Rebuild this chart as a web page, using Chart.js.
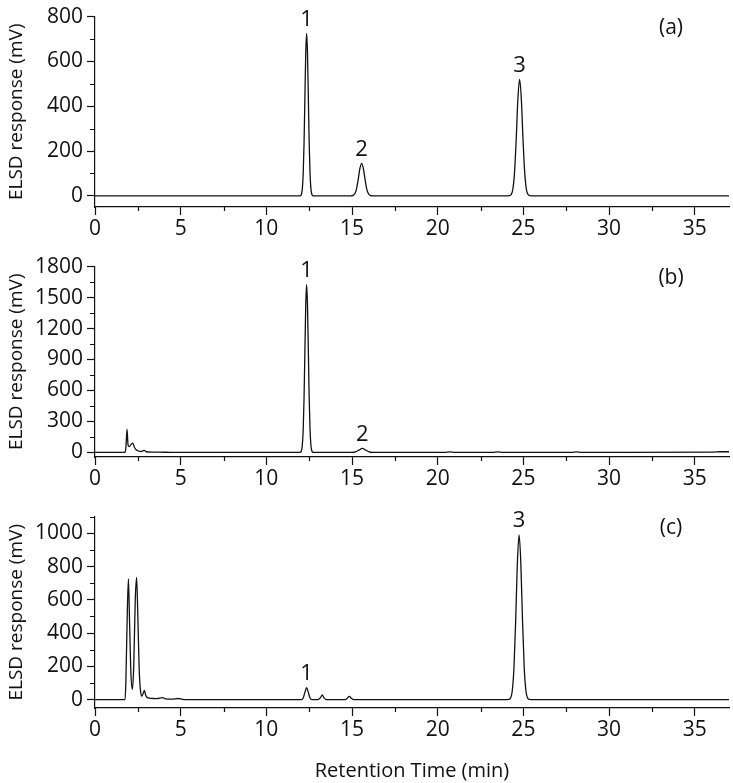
<!DOCTYPE html>
<html>
<head>
<meta charset="utf-8">
<script src="https://cdn.jsdelivr.net/npm/chart.js@4.4.0/dist/chart.umd.min.js"></script>
<style>
  html, body { margin: 0; padding: 0; background: #fff; }
  .panel { position: absolute; left: 0; width: 733px; }
  .panel canvas { display: block; }
</style>
</head>
<body>
<div class="panel" style="top:0px;height:250px"><canvas id="chA" width="733" height="250"></canvas></div>
<div class="panel" style="top:250px;height:250px"><canvas id="chB" width="733" height="250"></canvas></div>
<div class="panel" style="top:500px;height:283px"><canvas id="chC" width="733" height="283"></canvas></div>
<script>
// x axis
const xMin = 0, xMax = 37;
const xTicks = [0, 5, 10, 15, 20, 25, 30, 35];

// (a) retention time (min) / response (mV)
const timeA = [0, 11.9, 12.0, 12.05, 12.1, 12.15, 12.2, 12.25, 12.3, 12.35, 12.4, 12.45, 12.5, 12.55, 12.6, 12.65, 12.7, 12.8,
  14.9, 15.06, 15.16, 15.26, 15.36, 15.46, 15.56, 15.66, 15.76, 15.86, 15.96, 16.06, 16.2,
  23.9, 24.18, 24.28, 24.38, 24.48, 24.58, 24.68, 24.78, 24.88, 24.98, 25.08, 25.18, 25.28, 25.38, 25.6, 37];
const respA = [0, 0, 1, 8, 32, 98, 235, 440, 640, 725, 640, 440, 235, 98, 32, 8, 1, 0,
  0, 2, 9, 30, 73, 122, 145, 122, 73, 30, 9, 2, 0,
  0, 1, 5, 27, 100, 249, 433, 520, 433, 249, 100, 27, 5, 1, 0, 0];
const yTicksA = [0, 200, 400, 600, 800];
const tagTextA = ['1', '2', '3'];
const tagTimeA = [12.35, 15.56, 24.78];
const tagRespA = [725, 145, 520];

// (b)
const timeB = [0, 1.75, 1.8, 1.87, 1.93, 2.0, 2.1, 2.2, 2.3, 2.4, 2.55, 2.7, 2.86, 3.0, 3.3, 3.8, 4.5,
  11.9, 12.0, 12.05, 12.1, 12.15, 12.2, 12.25, 12.3, 12.35, 12.4, 12.45, 12.5, 12.55, 12.6, 12.65, 12.7, 12.8,
  15.0, 15.2, 15.4, 15.6, 15.8, 16.0, 16.2, 20.4, 20.7, 21.0, 23.2, 23.5, 23.8, 27.8, 28.1, 28.4, 36.0, 36.5, 37];
const respB = [0, 0, 40, 224, 70, 55, 75, 90, 50, 25, 12, 8, 20, 6, 3, 2, 0,
  0, 2, 18, 71, 220, 527, 986, 1434, 1625, 1434, 986, 527, 220, 71, 18, 2, 0,
  0, 5, 22, 38, 22, 5, 0, 0, 5, 0, 0, 4, 0, 0, 4, 0, 2, 6, 6];
const yTicksB = [0, 300, 600, 900, 1200, 1500, 1800];
const tagTextB = ['1', '2'];
const tagTimeB = [12.35, 15.6];
const tagRespB = [1625, 38];

// (c)
const timeC = [0, 1.75, 1.8, 1.88, 1.95, 2.02, 2.1, 2.18, 2.26, 2.35, 2.43, 2.5, 2.58, 2.66, 2.74, 2.82, 2.88, 2.95, 3.05, 3.3, 3.6, 3.95, 4.1, 4.5, 4.85, 5.1, 5.5,
  12.05, 12.15, 12.25, 12.35, 12.45, 12.55, 12.65, 13.0, 13.16, 13.26, 13.36, 13.5, 14.6, 14.72, 14.84, 14.96, 15.1,
  23.9, 24.15, 24.25, 24.35, 24.45, 24.55, 24.65, 24.75, 24.85, 24.95, 25.05, 25.15, 25.25, 25.35, 25.6, 37];
const respC = [0, 0, 100, 500, 726, 450, 150, 62, 200, 600, 734, 500, 180, 50, 22, 40, 56, 30, 12, 8, 6, 12, 5, 3, 7, 2, 0,
  0, 10, 44, 72, 44, 10, 0, 0, 12, 28, 12, 0, 0, 8, 20, 8, 0,
  0, 1.5, 10, 52, 190, 475, 824, 990, 824, 475, 190, 52, 10, 1.5, 0, 0];
const yTicksC = [0, 200, 400, 600, 800, 1000];
const tagTextC = ['1', '3'];
const tagTimeC = [12.35, 24.75];
const tagRespC = [72, 990];

const FONT = "'Open Sans', 'DejaVu Sans', sans-serif";
const INK = '#111';

function pts(ts, vs) {
  return ts.map((t, i) => ({ x: t, y: vs[i] }));
}

// short minor ticks halfway between majors, peak numbers, panel letter
const decorPlugin = {
  id: 'decor',
  afterDraw(chart, args, opts) {
    const ctx = chart.ctx;
    const xs = chart.scales.x, ys = chart.scales.y;
    ctx.save();
    ctx.strokeStyle = INK;
    ctx.lineWidth = 1.2;
    ctx.beginPath();
    const xStep = xTicks[1] - xTicks[0];
    xTicks.forEach(v => {
      const m = v + xStep / 2;
      if (m > xMax) return;
      const px = Math.round(xs.getPixelForValue(m)) + 0.5;
      ctx.moveTo(px, xs.top);
      ctx.lineTo(px, xs.top + 4);
    });
    const yStep = opts.yTicks[1] - opts.yTicks[0];
    opts.yTicks.forEach(v => {
      const m = v + yStep / 2;
      if (m > ys.max) return;
      const py = Math.round(ys.getPixelForValue(m)) + 0.5;
      ctx.moveTo(ys.right, py);
      ctx.lineTo(ys.right - 5, py);
    });
    ctx.stroke();

    ctx.fillStyle = INK;
    ctx.font = '22px ' + FONT;
    ctx.textAlign = 'center';
    ctx.textBaseline = 'bottom';
    opts.tags.forEach((txt, i) => {
      const px = xs.getPixelForValue(opts.tagTimes[i]);
      const py = ys.getPixelForValue(opts.tagResp[i]);
      ctx.fillText(txt, px, py - 3);
    });
    ctx.font = '21px ' + FONT;
    ctx.textBaseline = 'middle';
    ctx.fillText(opts.letter, chart.chartArea.right - 58, chart.chartArea.top + 11);
    ctx.restore();
  }
};

function makePanel(id, ts, vs, cfg) {
  new Chart(document.getElementById(id), {
    type: 'line',
    data: {
      datasets: [{
        data: pts(ts, vs),
        borderColor: INK,
        borderWidth: 1.3,
        pointRadius: 0,
        fill: false,
        cubicInterpolationMode: 'monotone'
      }]
    },
    options: {
      responsive: false,
      animation: false,
      devicePixelRatio: 1,
      layout: { padding: { top: cfg.padTop, right: 4, left: 0, bottom: 0 } },
      plugins: {
        legend: { display: false },
        tooltip: { enabled: false },
        decor: { yTicks: cfg.yTicks, tags: cfg.tags, tagTimes: cfg.tagTimes, tagResp: cfg.tagResp, letter: cfg.letter }
      },
      scales: {
        x: {
          type: 'linear',
          min: xMin,
          max: xMax,
          afterBuildTicks: s => { s.ticks = xTicks.map(v => ({ value: v })); },
          afterFit: s => { s.height = cfg.xHeight; },
          border: { display: true, color: INK, width: 1.2 },
          grid: { drawOnChartArea: false, drawTicks: true, tickLength: 8, tickColor: INK, tickWidth: 1.2 },
          ticks: { maxRotation: 0, autoSkip: false, padding: 1, color: INK, font: { family: FONT, size: 21 }, callback: v => String(v) },
          title: {
            display: !!cfg.xTitle,
            text: cfg.xTitle || '',
            color: INK,
            font: { family: FONT, size: 20 },
            padding: { top: 2, bottom: 0 }
          }
        },
        y: {
          type: 'linear',
          min: cfg.yMin,
          max: cfg.yMax,
          afterBuildTicks: s => { s.ticks = cfg.yTicks.map(v => ({ value: v })); },
          afterFit: s => { s.width = 95; },
          border: { display: true, color: INK, width: 1.2 },
          grid: { drawOnChartArea: false, drawTicks: true, tickLength: 8, tickColor: INK, tickWidth: 1.2 },
          ticks: { autoSkip: false, padding: 4, color: INK, font: { family: FONT, size: 21 }, callback: v => String(v) },
          title: {
            display: true,
            text: 'ELSD response (mV)',
            color: INK,
            font: { family: FONT, size: 19 },
            padding: { top: 5, bottom: 0 }
          }
        }
      }
    },
    plugins: [decorPlugin]
  });
}

makePanel('chA', timeA, respA, {
  padTop: 14, xHeight: 43, yMin: -50, yMax: 800, yTicks: yTicksA,
  tags: tagTextA, tagTimes: tagTimeA, tagResp: tagRespA, letter: '(a)'
});
makePanel('chB', timeB, respB, {
  padTop: 15, xHeight: 43, yMin: -45, yMax: 1800, yTicks: yTicksB,
  tags: tagTextB, tagTimes: tagTimeB, tagResp: tagRespB, letter: '(b)'
});
makePanel('chC', timeC, respC, {
  padTop: 16, xHeight: 75, yMin: -50, yMax: 1100, yTicks: yTicksC,
  tags: tagTextC, tagTimes: tagTimeC, tagResp: tagRespC, letter: '(c)',
  xTitle: 'Retention Time (min)'
});
</script>
</body>
</html>
